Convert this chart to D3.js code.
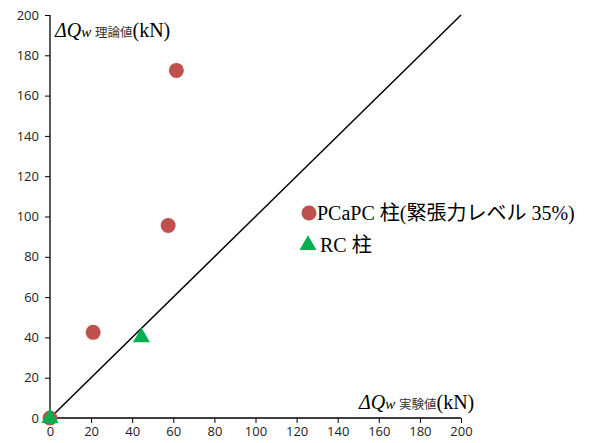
<!DOCTYPE html>
<html><head><meta charset="utf-8">
<script src="https://cdn.jsdelivr.net/npm/d3@7"></script>
<style>body{margin:0;background:#fff}</style>
</head><body>
<svg id="c" width="590" height="443"></svg>
<script>
const pcapcX = [0, 21, 57.5, 61.5];
const pcapcY = [0, 42.5, 95.5, 172.5];
const rcX = [0, 44.5];
const rcY = [0, 40];
const xTicks = [0,20,40,60,80,100,120,140,160,180,200];
const yTicks = [0,20,40,60,80,100,120,140,160,180,200];
const legendLabels = ["PCaPC 柱(緊張力レベル 35%)", "RC 柱"];

const svg = d3.select("#c");
const x = d3.scaleLinear().domain([0,200]).range([50,461]);
const y = d3.scaleLinear().domain([0,200]).range([418,15]);

const xAxis = svg.append("g").attr("transform","translate(0,418)")
  .call(d3.axisBottom(x).tickValues(xTicks).tickSize(5).tickPadding(4));
const yAxis = svg.append("g").attr("transform","translate(50,0)")
  .call(d3.axisLeft(y).tickValues(yTicks).tickSize(5).tickPadding(6));
[xAxis,yAxis].forEach(a=>{
  a.selectAll("path").attr("stroke","#000").attr("stroke-width",1.3);
  a.selectAll("line").attr("stroke","#000");
  a.selectAll("text").attr("font-family","'Open Sans', sans-serif").attr("font-size",13).attr("fill","#222");
});
xAxis.select(".domain").attr("d","M50,0H461");
yAxis.select(".domain").attr("d","M0,418V15");

// diagonal
svg.append("line").attr("x1",x(0)).attr("y1",y(0)).attr("x2",x(200)).attr("y2",y(200))
  .attr("stroke","#000").attr("stroke-width",1.5);

const red = "#C0504D", green = "#00B050";
svg.selectAll("circle.p").data(pcapcX.map((v,i)=>[v,pcapcY[i]])).enter()
  .append("circle").attr("cx",d=>x(d[0])).attr("cy",d=>y(d[1])).attr("r",7.5).attr("fill",red);
const tri = d3.symbol().type(d3.symbolTriangle).size(125);
svg.selectAll("path.r").data(rcX.map((v,i)=>[v,rcY[i]])).enter()
  .append("path").attr("d",tri).attr("transform",d=>`translate(${x(d[0])},${y(d[1])})`).attr("fill",green);

// axis titles
function title(xp, yp, sub) {
  const t = svg.append("text").attr("x",xp).attr("y",yp).attr("font-family","'Liberation Serif', serif").attr("fill","#000");
  t.append("tspan").attr("font-size",20).attr("font-style","italic").text("ΔQ");
  t.append("tspan").attr("font-size",15).attr("font-style","italic").text("w ");
  t.append("tspan").attr("font-size",12.5).attr("font-family","'Noto Sans CJK JP', sans-serif").attr("fill","#333").text(sub);
  t.append("tspan").attr("font-size",20).text("(kN)");
}
title(55, 37, "理論値");
title(359, 409, "実験値");

// legend
svg.append("circle").attr("cx",309).attr("cy",213).attr("r",7.5).attr("fill",red);
svg.append("path").attr("d",tri).attr("transform","translate(308,245)").attr("fill",green);
const lg = svg.append("g").attr("font-family","'Liberation Serif', 'Noto Sans CJK JP', serif").attr("font-size",20).attr("fill","#000");
lg.append("text").attr("x",317).attr("y",220).text(legendLabels[0]);
lg.append("text").attr("x",320).attr("y",252).text(legendLabels[1]);
</script>
</body></html>
